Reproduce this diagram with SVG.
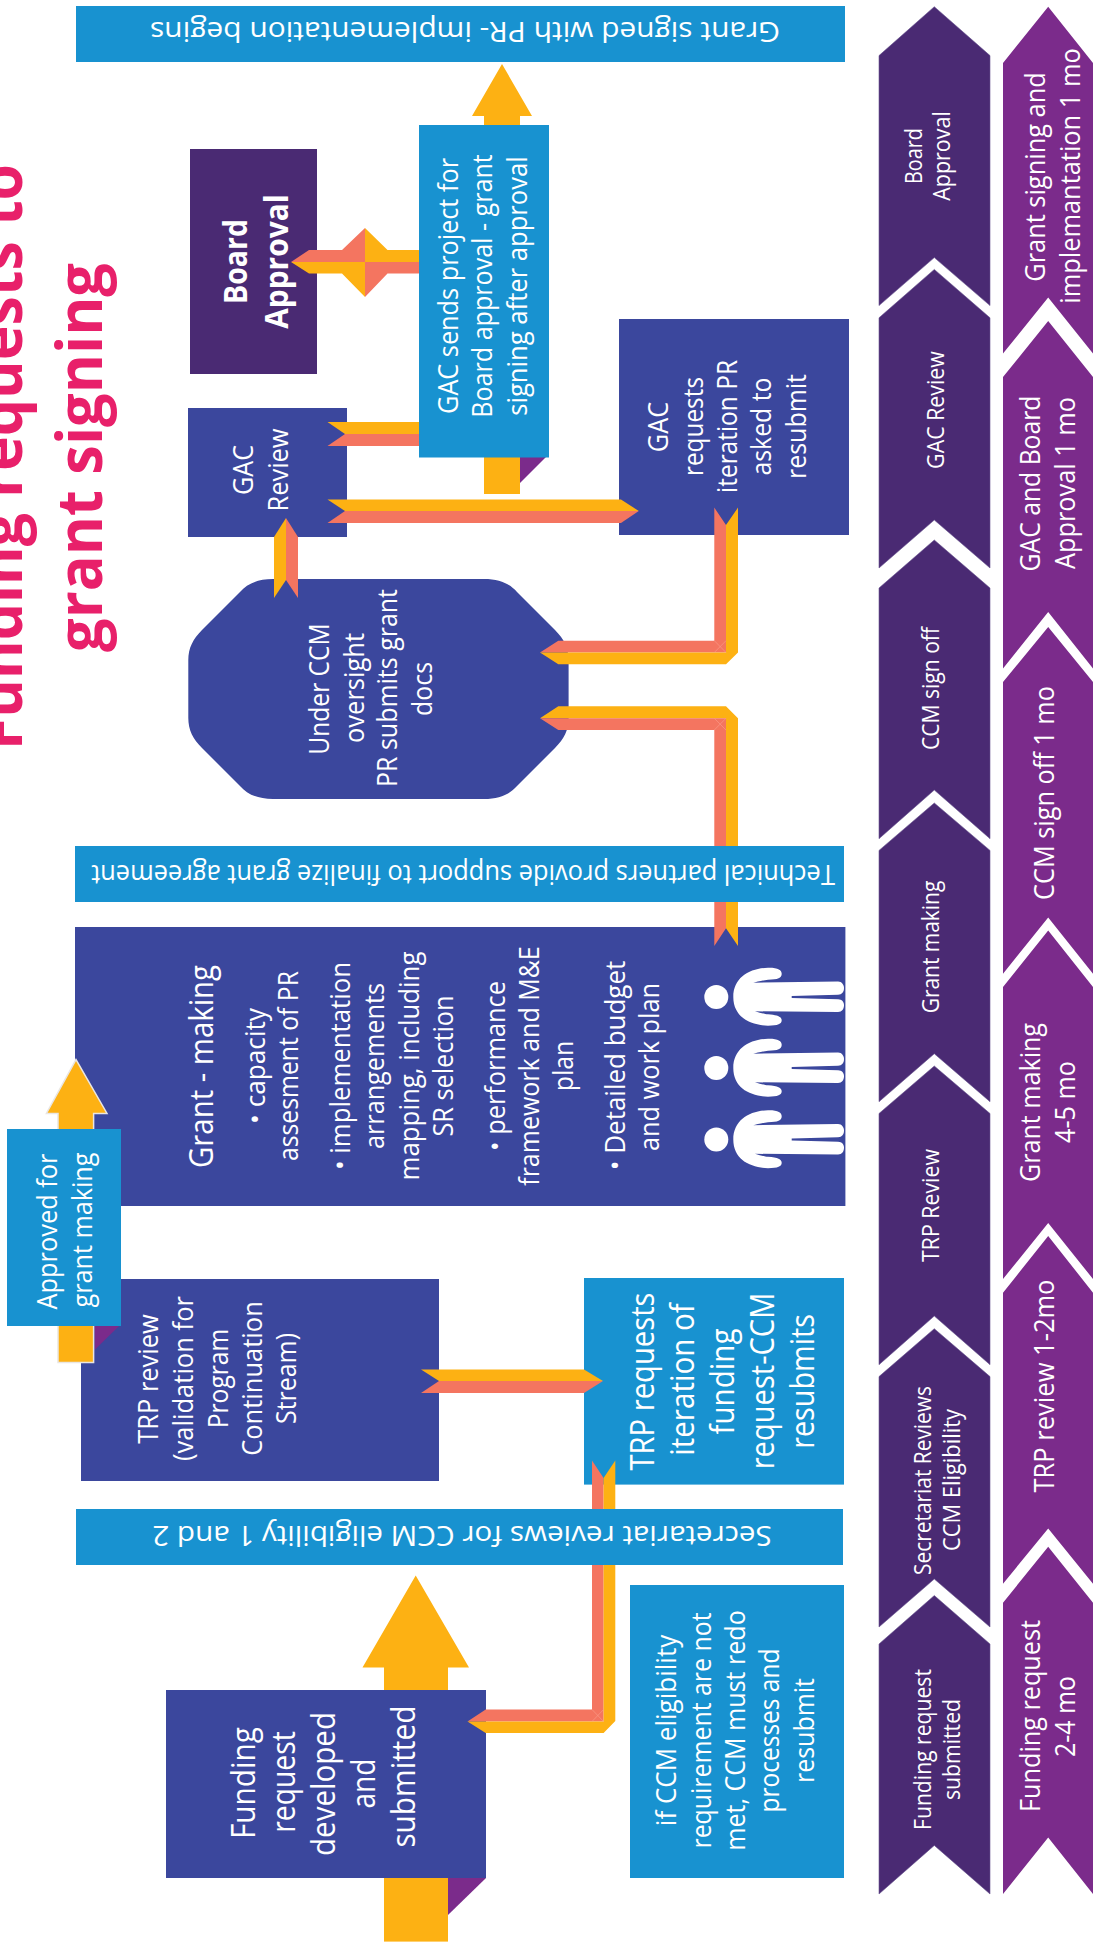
<svg xmlns="http://www.w3.org/2000/svg" width="1097" height="1944" viewBox="0 0 1097 1944">
<style>
text{font-family:"Open Sans","Noto Sans","Liberation Sans",sans-serif;fill:#fff;text-anchor:middle;}
.s25{font-size:27px}.s30{font-size:33px}.s21{font-size:23px}.bar{font-size:28px}
.b{font-weight:700}
.title{font-size:62px;font-weight:700;fill:#e8206a}
.navy{fill:#3b479d}.blue{fill:#1892d0}.dark{fill:#4a2a73;stroke:#6a5590;stroke-width:.6}.dark0{fill:#4a2a73}.purple{fill:#7b2b8b}.yl{fill:#fdb113}.co{fill:#f47560}
.fold{fill:#7b2b8b}.seam{fill:none;stroke:#f99a86;stroke-width:.7}
.white{fill:#fff}
</style>
<defs>
<g id="person"><circle cx="716.3" cy="0" r="12" class="white"/>
<path class="white" d="M733.3,0 C733.3,-20 750,-29 768,-29.3 C778,-29.5 781.7,-27 781.7,-23.3 C781.7,-19 778,-17.5 768,-17.3 C762,-16.5 756,-15 753.3,-14.3 L838,-15.5 C842,-15.5 844,-12 844,-9 C844,-5 842,-2.5 838,-2.3 L791.7,-1 L791.7,1 L838,2.3 C842,2.5 844,5 844,8.3 C844,12 842,15 838,15 L755,14.3 C760,16 765,17 768,17.3 C778,18 781.7,20 781.7,23.3 C781.7,27 778,28.7 768,28.7 C750,28 733.3,20 733.3,0 Z"/></g>
</defs>
<rect width="1097" height="1944" fill="#fff"/>

<g id="title">
<text class="title" transform="translate(22,457) rotate(-90)" textLength="586" lengthAdjust="spacingAndGlyphs">Funding requests to</text>
<text class="title" transform="translate(102,457.5) rotate(-90)" textLength="389" lengthAdjust="spacingAndGlyphs">grant signing</text>
</g>

<g id="node-board-approval">
<rect x="190" y="149" width="127" height="225" class="dark0"/>
<text class="s30 b" transform="translate(247,261.5) rotate(-90)" textLength="85" lengthAdjust="spacingAndGlyphs">Board</text>
<text class="s30 b" transform="translate(287.5,261.5) rotate(-90)" textLength="134.6" lengthAdjust="spacingAndGlyphs">Approval</text>
</g>

<g id="node-gac-review">
<rect x="188" y="408" width="159" height="129" class="navy"/>
<text class="s25" transform="translate(252.5,470) rotate(-90)" textLength="50" lengthAdjust="spacingAndGlyphs">GAC</text>
<text class="s25" transform="translate(287.5,470) rotate(-90)" textLength="83" lengthAdjust="spacingAndGlyphs">Review</text>
</g>

<g id="node-under-ccm">
<path class="navy" d="M273,579 L484,579 C500,579 510,584 517,592 L555,630 C564,639 568.6,648 568.6,660 L568.6,718 C568.6,730 564,739 555,748 L517,786 C510,794 500,799 484,799 L273,799 C257,799 247,794 240,786 L202,748 C193,739 188.3,730 188.3,718 L188.3,660 C188.3,648 193,639 202,630 L240,592 C247,584 257,579 273,579 Z"/>
<text class="s25" transform="translate(329,689) rotate(-90)" textLength="131.5" lengthAdjust="spacingAndGlyphs">Under CCM</text>
<text class="s25" transform="translate(363.5,688) rotate(-90)" textLength="110" lengthAdjust="spacingAndGlyphs">oversight</text>
<text class="s25" transform="translate(397,688) rotate(-90)" textLength="198" lengthAdjust="spacingAndGlyphs">PR submits grant</text>
<text class="s25" transform="translate(432,689) rotate(-90)" textLength="54" lengthAdjust="spacingAndGlyphs">docs</text>
</g>

<g id="node-gac-requests">
<rect x="619" y="319" width="230" height="216" class="navy"/>
<text class="s25" transform="translate(668,427) rotate(-90)" textLength="50.5" lengthAdjust="spacingAndGlyphs">GAC</text>
<text class="s25" transform="translate(702.7,426.5) rotate(-90)" textLength="99" lengthAdjust="spacingAndGlyphs">requests</text>
<text class="s25" transform="translate(737,426.5) rotate(-90)" textLength="133" lengthAdjust="spacingAndGlyphs">iteration PR</text>
<text class="s25" transform="translate(770.8,426.5) rotate(-90)" textLength="98" lengthAdjust="spacingAndGlyphs">asked to</text>
<text class="s25" transform="translate(805.6,426.5) rotate(-90)" textLength="105" lengthAdjust="spacingAndGlyphs">resubmit</text>
</g>

<g id="node-grant-making">
<rect x="75" y="927" width="770.4" height="279" class="navy"/>
<text class="s30" transform="translate(212.5,1066.5) rotate(-90)" textLength="203" lengthAdjust="spacingAndGlyphs">Grant - making</text>
<text class="s25" transform="translate(264.6,1066) rotate(-90)" textLength="116" lengthAdjust="spacingAndGlyphs">• capacity</text>
<text class="s25" transform="translate(298,1066) rotate(-90)" textLength="190" lengthAdjust="spacingAndGlyphs">assesment of PR</text>
<text class="s25" transform="translate(350,1066) rotate(-90)" textLength="208" lengthAdjust="spacingAndGlyphs">• implementation</text>
<text class="s25" transform="translate(384,1066) rotate(-90)" textLength="166" lengthAdjust="spacingAndGlyphs">arrangements</text>
<text class="s25" transform="translate(418.6,1066) rotate(-90)" textLength="229" lengthAdjust="spacingAndGlyphs">mapping, including</text>
<text class="s25" transform="translate(453,1066) rotate(-90)" textLength="141" lengthAdjust="spacingAndGlyphs">SR selection</text>
<text class="s25" transform="translate(505,1066) rotate(-90)" textLength="170" lengthAdjust="spacingAndGlyphs">• performance</text>
<text class="s25" transform="translate(539,1066) rotate(-90)" textLength="239.5" lengthAdjust="spacingAndGlyphs">framework and M&amp;E</text>
<text class="s25" transform="translate(572.8,1066) rotate(-90)" textLength="50.5" lengthAdjust="spacingAndGlyphs">plan</text>
<text class="s25" transform="translate(624.5,1065.5) rotate(-90)" textLength="209.6" lengthAdjust="spacingAndGlyphs">• Detailed budget</text>
<text class="s25" transform="translate(659,1067) rotate(-90)" textLength="168" lengthAdjust="spacingAndGlyphs">and work plan</text>
<use href="#person" y="997"/><use href="#person" y="1068"/><use href="#person" y="1139.5"/>
</g>

<g id="node-trp-review">
<rect x="81" y="1279" width="358" height="202" class="navy"/>
<text class="s25" transform="translate(158,1379) rotate(-90)" textLength="129.6" lengthAdjust="spacingAndGlyphs">TRP review</text>
<text class="s25" transform="translate(193,1378.5) rotate(-90)" textLength="165" lengthAdjust="spacingAndGlyphs">(validation for</text>
<text class="s25" transform="translate(227.5,1378.5) rotate(-90)" textLength="99.5" lengthAdjust="spacingAndGlyphs">Program</text>
<text class="s25" transform="translate(262,1378.5) rotate(-90)" textLength="154.6" lengthAdjust="spacingAndGlyphs">Continuation</text>
<text class="s25" transform="translate(296.4,1378.5) rotate(-90)" textLength="91" lengthAdjust="spacingAndGlyphs">Stream)</text>
</g>

<g id="node-trp-requests">
<rect x="584" y="1278" width="260" height="206.6" class="blue"/>
<text class="s30" transform="translate(653.7,1381.5) rotate(-90)" textLength="178" lengthAdjust="spacingAndGlyphs">TRP requests</text>
<text class="s30" transform="translate(693.5,1379.5) rotate(-90)" textLength="152.5" lengthAdjust="spacingAndGlyphs">iteration of</text>
<text class="s30" transform="translate(733.6,1381.5) rotate(-90)" textLength="106" lengthAdjust="spacingAndGlyphs">funding</text>
<text class="s30" transform="translate(773.7,1381) rotate(-90)" textLength="176.6" lengthAdjust="spacingAndGlyphs">request-CCM</text>
<text class="s30" transform="translate(813.5,1381.5) rotate(-90)" textLength="134.7" lengthAdjust="spacingAndGlyphs">resubmits</text>
</g>

<g id="node-ccm-not-met">
<rect x="630" y="1585" width="214" height="293" class="blue"/>
<text class="s25" transform="translate(676,1730.5) rotate(-90)" textLength="191.4" lengthAdjust="spacingAndGlyphs">if CCM eligibility</text>
<text class="s25" transform="translate(710.5,1730.5) rotate(-90)" textLength="236" lengthAdjust="spacingAndGlyphs">requirement are not</text>
<text class="s25" transform="translate(745,1730.5) rotate(-90)" textLength="240.6" lengthAdjust="spacingAndGlyphs">met, CCM must redo</text>
<text class="s25" transform="translate(778.7,1730.5) rotate(-90)" textLength="164" lengthAdjust="spacingAndGlyphs">processes and</text>
<text class="s25" transform="translate(813.5,1730.5) rotate(-90)" textLength="105" lengthAdjust="spacingAndGlyphs">resubmit</text>
</g>

<g id="stage-board-approval">
<polygon class="dark" points="934.3,6.7 990,55.6 990,305.6 934.3,257.6 879,305.6 879,55.6"/>
<text class="s21" transform="translate(922,156) rotate(-90)" textLength="56" lengthAdjust="spacingAndGlyphs">Board</text>
<text class="s21" transform="translate(950.3,156) rotate(-90)" textLength="89.6" lengthAdjust="spacingAndGlyphs">Approval</text>
</g>
<g id="stage-gac-review">
<polygon class="dark" points="934.3,269.4 990,317.8 990,568 934.3,520 879,568 879,317.8"/>
<text class="s21" transform="translate(943.8,410) rotate(-90)" textLength="117.8" lengthAdjust="spacingAndGlyphs">GAC Review</text>
</g>
<g id="stage-ccm-sign-off">
<polygon class="dark" points="934.3,540 990,588 990,838.7 934.3,790 879,838.7 879,588"/>
<text class="s21" transform="translate(938.6,688.5) rotate(-90)" textLength="123" lengthAdjust="spacingAndGlyphs">CCM sign off</text>
</g>
<g id="stage-grant-making">
<polygon class="dark" points="934.3,803 990,850.4 990,1101.7 934.3,1053.7 879,1101.7 879,850.4"/>
<text class="s21" transform="translate(938.6,947) rotate(-90)" textLength="132.6" lengthAdjust="spacingAndGlyphs">Grant making</text>
</g>
<g id="stage-trp-review">
<polygon class="dark" points="934.3,1066 990,1113.5 990,1364.7 934.3,1316 879,1364.7 879,1113.5"/>
<text class="s21" transform="translate(938.6,1205.5) rotate(-90)" textLength="113" lengthAdjust="spacingAndGlyphs">TRP Review</text>
</g>
<g id="stage-secretariat">
<polygon class="dark" points="934.3,1328.7 990,1376.6 990,1627 934.3,1579 879,1627 879,1376.6"/>
<text class="s21" transform="translate(931,1480.5) rotate(-90)" textLength="189" lengthAdjust="spacingAndGlyphs">Secretariat Reviews</text>
<text class="s21" transform="translate(960,1480) rotate(-90)" textLength="142" lengthAdjust="spacingAndGlyphs">CCM Eligibility</text>
</g>
<g id="stage-funding-request">
<polygon class="dark" points="934.3,1595.5 990,1644 990,1894 934.3,1845.4 879,1894 879,1644"/>
<text class="s21" transform="translate(931,1749.5) rotate(-90)" textLength="161" lengthAdjust="spacingAndGlyphs">Funding request</text>
<text class="s21" transform="translate(960,1749.5) rotate(-90)" textLength="101" lengthAdjust="spacingAndGlyphs">submitted</text>
</g>

<g id="time-grant-signing">
<polygon class="purple" points="1048.2,6.7 1093,63 1093,353.5 1048.2,297.6 1003,353.5 1003,63"/>
<text class="s25" transform="translate(1045.2,177) rotate(-90)" textLength="209.6" lengthAdjust="spacingAndGlyphs">Grant signing and</text>
<text class="s25" transform="translate(1080,176) rotate(-90)" textLength="255.5" lengthAdjust="spacingAndGlyphs">implemantation 1 mo</text>
</g>
<g id="time-gac-board">
<polygon class="purple" points="1048.2,321 1093,377 1093,668.6 1048.2,612 1003,668.6 1003,377"/>
<text class="s25" transform="translate(1040.4,483.5) rotate(-90)" textLength="176" lengthAdjust="spacingAndGlyphs">GAC and Board</text>
<text class="s25" transform="translate(1074.6,483) rotate(-90)" textLength="172" lengthAdjust="spacingAndGlyphs">Approval 1 mo</text>
</g>
<g id="time-ccm-sign-off">
<polygon class="purple" points="1048.2,627 1093,682 1093,973.8 1048.2,917.4 1003,973.8 1003,682"/>
<text class="s25" transform="translate(1054,793) rotate(-90)" textLength="213.8" lengthAdjust="spacingAndGlyphs">CCM sign off 1 mo</text>
</g>
<g id="time-grant-making">
<polygon class="purple" points="1048.2,930.4 1093,987 1093,1279 1048.2,1223 1003,1279 1003,987"/>
<text class="s25" transform="translate(1040.4,1102.5) rotate(-90)" textLength="159" lengthAdjust="spacingAndGlyphs">Grant making</text>
<text class="s25" transform="translate(1074.6,1102) rotate(-90)" textLength="82" lengthAdjust="spacingAndGlyphs">4-5 mo</text>
</g>
<g id="time-trp-review">
<polygon class="purple" points="1048.2,1236 1093,1292.7 1093,1583.7 1048.2,1528.6 1003,1583.7 1003,1292.7"/>
<text class="s25" transform="translate(1054,1386) rotate(-90)" textLength="213" lengthAdjust="spacingAndGlyphs">TRP review 1-2mo</text>
</g>
<g id="time-funding-request">
<polygon class="purple" points="1048.2,1546.8 1093,1602.7 1093,1894 1048.2,1837.4 1003,1894 1003,1602.7"/>
<text class="s25" transform="translate(1040.4,1716) rotate(-90)" textLength="192" lengthAdjust="spacingAndGlyphs">Funding request</text>
<text class="s25" transform="translate(1074.6,1716.5) rotate(-90)" textLength="81" lengthAdjust="spacingAndGlyphs">2-4 mo</text>
</g>

<g id="node-fold-corners">
<polygon class="fold" points="520,457 546,457 520,483"/>
<polygon class="fold" points="94.6,1326 119,1326 94.6,1350"/>
<polygon class="fold" points="448,1878 486,1878 448,1915"/>
</g>

<g id="node-funding-request">
<rect x="166" y="1690" width="320" height="188" class="navy"/>
<text class="s30" transform="translate(254.6,1783) rotate(-90)" textLength="112" lengthAdjust="spacingAndGlyphs">Funding</text>
<text class="s30" transform="translate(294.6,1782) rotate(-90)" textLength="101.6" lengthAdjust="spacingAndGlyphs">request</text>
<text class="s30" transform="translate(335,1784) rotate(-90)" textLength="144" lengthAdjust="spacingAndGlyphs">developed</text>
<text class="s30" transform="translate(375,1783.6) rotate(-90)" textLength="50" lengthAdjust="spacingAndGlyphs">and</text>
<text class="s30" transform="translate(415.4,1776.6) rotate(-90)" textLength="142" lengthAdjust="spacingAndGlyphs">submitted</text>
</g>

<g id="connectors">
<polygon class="yl" points="484,494 484,116 472,116 502,64 532,116 520,116 520,494"/>
<polygon class="yl" points="384,1690 384,1667.5 362.5,1667.5 415.7,1575.6 469,1667.5 448,1667.5 448,1690"/>
<rect class="yl" x="384" y="1878" width="64" height="63.6"/>
<polygon class="yl" style="stroke:#e9e6e2;stroke-width:1.5" points="58,1362.6 58,1113.5 46.4,1113.5 76,1059.6 107,1113.5 93.6,1113.5 93.6,1362.6"/>

<polygon class="co" points="291,262 309,250 342,250 365,228 365,262"/>
<polygon class="yl" points="291,262 309,273.6 342,273.6 365,297 365,262"/>
<polygon class="yl" points="365,228 387.5,250 418.6,250 436,262 365,262"/>
<polygon class="co" points="365,262 436,262 418.6,273.6 387.5,273.6 365,297"/>

<polygon class="yl" points="327.5,422 425,422 425,434 345,434"/>
<polygon class="co" points="327.5,446 425,446 425,434 345,434"/>

<polygon class="yl" points="327.5,499.6 621,499.6 638.8,511 345,511"/>
<polygon class="co" points="327.5,523 621,523 638.8,511 345,511"/>

<polygon class="yl" points="274,598 274,537 286,518 286,580"/>
<polygon class="co" points="298,598 298,537 286,518 286,580"/>

<polygon class="co" points="540,652.5 558.3,640.7 714.3,640.7 714.3,507.6 726,525 726,652.5"/>
<polygon class="yl" points="540,652.5 558.3,664.3 726,664.3 738,652.5 738,507.6 726,525 726,652.5"/>
<path class="seam" d="M714.3,640.7 L726,652.5 M714.3,652.5 L726,640.7"/>

<polygon class="yl" points="540,718.3 558.3,706.3 726,706.3 738,718.3 738,946 726,928.3 726,718.3"/>
<polygon class="co" points="540,718.3 558.3,730 714.3,730 714.3,946 726,928.3 726,718.3"/>
<path class="seam" d="M714.3,718.3 L726,730 M714.3,730 L726,718.3"/>

<polygon class="yl" points="421,1369.4 584,1369.4 603,1381 439,1381"/>
<polygon class="co" points="421,1393 584,1393 603,1381 439,1381"/>

<polygon class="co" points="467.5,1721.5 485.7,1709.5 592,1709.5 592,1460.4 603.6,1478 603.6,1721.5"/>
<polygon class="yl" points="467.5,1721.5 485.7,1733 603.6,1733 615.3,1721 615.3,1460.4 603.6,1478 603.6,1721.5"/>
<path class="seam" d="M592,1709.5 L603.6,1721.5 M592,1721.5 L603.6,1709.5"/>
</g>

<g id="node-grant-signed">
<rect x="76" y="6" width="769" height="56" class="blue"/>
<text class="bar" transform="translate(465,22) rotate(180)" textLength="630" lengthAdjust="spacingAndGlyphs">Grant signed with PR- implementation begins</text>
</g>

<g id="node-gac-sends">
<rect x="419" y="125" width="130" height="332.5" class="blue"/>
<text class="s25" transform="translate(458,286) rotate(-90)" textLength="256" lengthAdjust="spacingAndGlyphs">GAC sends project for</text>
<text class="s25" transform="translate(492,286) rotate(-90)" textLength="263.5" lengthAdjust="spacingAndGlyphs">Board approval - grant</text>
<text class="s25" transform="translate(527,286) rotate(-90)" textLength="259.5" lengthAdjust="spacingAndGlyphs">signing after approval</text>
</g>

<g id="node-technical-partners">
<rect x="75" y="846" width="769" height="56" class="blue"/>
<text class="bar" transform="translate(463,865) rotate(180)" textLength="743.8" lengthAdjust="spacingAndGlyphs">Technical partners provide support to finalize grant agreement</text>
</g>

<g id="node-approved">
<rect x="7" y="1129" width="114" height="197" class="blue"/>
<text class="s25" transform="translate(57,1231.5) rotate(-90)" textLength="156" lengthAdjust="spacingAndGlyphs">Approved for</text>
<text class="s25" transform="translate(92,1230) rotate(-90)" textLength="155" lengthAdjust="spacingAndGlyphs">grant making</text>
</g>

<g id="node-secretariat">
<rect x="76" y="1509" width="767" height="56" class="blue"/>
<text class="bar" transform="translate(462,1525.6) rotate(180)" textLength="619.5" lengthAdjust="spacingAndGlyphs">Secretariat reviews for CCM eligibility 1 and 2</text>
</g>
</svg>
